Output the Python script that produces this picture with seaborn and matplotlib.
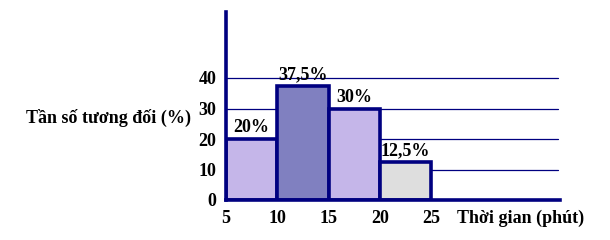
import matplotlib
matplotlib.use("Agg")
import matplotlib.pyplot as plt
import seaborn as sns
import numpy as np

# Data
bin_edges = [5, 10, 15, 20, 25]
mids = [7.5, 12.5, 17.5, 22.5]
rel_freq = [20, 37.5, 30, 12.5]
bar_labels = ["20%", "37,5%", "30%", "12,5%"]
bar_colors = ["#C5B6E9", "#8080C0", "#C5B6E9", "#DEDEDE"]
y_ticks = [0, 10, 20, 30, 40]
x_ticks = [5, 10, 15, 20, 25]
y_title = "Tần số tương đối (%)"
x_title = "Thời gian (phút)"

sns.set_theme(style="white")
plt.rcParams["font.family"] = ["Liberation Serif", "DejaVu Serif"]
plt.rcParams["font.weight"] = "bold"

FS = 13
navy = "#000080"
fig = plt.figure(figsize=(6.1, 2.4), dpi=100)
ax = fig.add_axes([226/610, 40/240, 334/610, 188/240])

sns.histplot(x=mids, weights=rel_freq, bins=bin_edges, ax=ax,
             edgecolor=navy, linewidth=2.6, alpha=1, zorder=3)
for p, c in zip(ax.patches, bar_colors):
    p.set_facecolor(c)

for v in y_ticks[1:]:
    ax.axhline(v, color=navy, lw=0.9, zorder=1, xmax=0.995)

ax.set_xlim(5, 5 + 334/10.25)
ax.set_ylim(0, 188/3.05)
ax.set_yticks(y_ticks)
ax.set_xticks(x_ticks)
ax.tick_params(axis="both", length=0, labelsize=FS, colors="black")
ax.tick_params(axis="y", pad=7)
ax.tick_params(axis="x", pad=7)
for lab in ax.get_xticklabels() + ax.get_yticklabels():
    lab.set_fontweight("bold")

ax.bar_label(ax.containers[0], labels=bar_labels, padding=2,
             fontsize=FS, fontweight="bold", color="black")

for s in ["top", "right"]:
    ax.spines[s].set_visible(False)
for s in ["left", "bottom"]:
    ax.spines[s].set_color(navy)
    ax.spines[s].set_linewidth(2.6)
    ax.spines[s].set_zorder(4)

ax.set_ylabel(y_title, rotation=0, ha="center", va="center",
              fontsize=FS, fontweight="bold", color="black")
ax.yaxis.set_label_coords((108-226)/334, (200-118)/188)
ax.set_xlabel(x_title, ha="center", va="center",
              fontsize=FS, fontweight="bold", color="black")
ax.xaxis.set_label_coords((521-226)/334, (200-218)/188)

fig.savefig("out.png", dpi=100, facecolor="white")
